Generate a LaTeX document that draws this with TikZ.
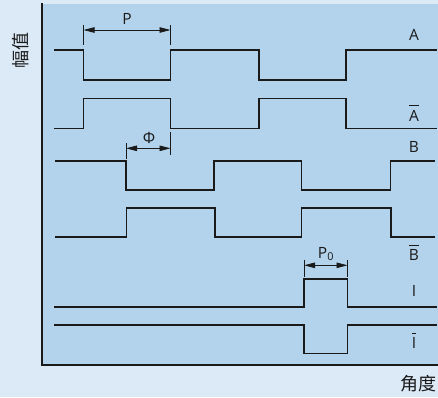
\documentclass[tikz,border=0pt]{standalone}
\usepackage{fontspec}
\setmainfont{Open Sans}
\newfontfamily\cjk{Noto Sans CJK SC}
\usetikzlibrary{arrows.meta}
\definecolor{outerbg}{HTML}{DCE9F6}
\definecolor{panelbg}{HTML}{B3D3EC}
\definecolor{sig}{HTML}{1A1A1A}
\newcommand\barred[1]{\leavevmode\vbox{\hrule height 1.2pt\kern 3.4pt\hbox{#1}}}
\begin{document}
\begin{tikzpicture}[x=1pt,y=-1pt,
  wave/.style={draw=sig, line width=1.8pt, line join=miter},
  axisline/.style={draw=sig, line width=1.8pt},
  dimline/.style={draw=sig, line width=0.8pt, {Triangle[length=11pt,width=5.5pt]}-{Triangle[length=11pt,width=5.5pt]}},
  dimtick/.style={draw=sig, line width=0.8pt},
  lbl/.style={font=\fontsize{15.5}{18}\selectfont, inner sep=0pt, text=sig},
  cjklbl/.style={font=\cjk\fontsize{18}{20}\selectfont, inner sep=0pt, text=sig},
  ]
\fill[outerbg] (0,0) rectangle (438,397);
\useasboundingbox (0,0) rectangle (438,397);
\fill[panelbg] (42,4) rectangle (438,365);
\draw[axisline] (42,3) -- (42,365) -- (438,365);

% waveforms
\draw[wave] (54,50) -- (83.5,50) -- (83.5,80) -- (170.5,80) -- (170.5,50) -- (259,50) -- (259,80) -- (346,80) -- (346,50) -- (437,50);
\draw[wave] (54,128.5) -- (83.5,128.5) -- (83.5,98.5) -- (170.5,98.5) -- (170.5,128.5) -- (259,128.5) -- (259,98.5) -- (346,98.5) -- (346,128.5) -- (437,128.5);
\draw[wave] (55,160.7) -- (126,160.7) -- (126,190) -- (214,190) -- (214,160.7) -- (301.5,160.7) -- (301.5,190) -- (390.5,190) -- (390.5,160.7) -- (435,160.7);
\draw[wave] (55,237.3) -- (126.5,237.3) -- (126.5,208.3) -- (215,208.3) -- (215,237.3) -- (301.5,237.3) -- (301.5,208.3) -- (391,208.3) -- (391,237.3) -- (435,237.3);
\draw[wave] (54,307) -- (304,307) -- (304,279) -- (347.5,279) -- (347.5,307) -- (437,307);
\draw[wave] (54,325) -- (304,325) -- (304,353.5) -- (347.5,353.5) -- (347.5,325) -- (437,325);

% dimension P
\coordinate (pL) at (83.5,30);
\coordinate (pR) at (170.5,30);
\draw[dimtick] (83.5,25) -- (83.5,45);
\draw[dimtick] (170.5,25) -- (170.5,45);
\draw[dimline] (pL) -- (pR);
\node[lbl] (pLab) at (127,19) {P};

% dimension Phi
\coordinate (fL) at (126,148.3);
\coordinate (fR) at (170.5,148.3);
\draw[dimtick] (126,143) -- (126,158.5);
\draw[dimtick] (170.5,131.5) -- (170.5,155);
\draw[dimline] (fL) -- (fR);
\node[lbl] (fLab) at (149,137.5) {Φ};

% dimension P0
\coordinate (qL) at (304,265.3);
\coordinate (qR) at (347.5,265.3);
\draw[dimtick] (304,259.5) -- (304,277);
\draw[dimtick] (347.5,259.5) -- (347.5,277);
\draw[dimline] (qL) -- (qR);
\node[lbl] (qLab) at (326,254) {P\textsubscript{0}};

% signal labels
\node[lbl, anchor=base] (la) at (414,40) {A};
\node[lbl, anchor=base] (lna) at (414,121) {\barred{A}};
\node[lbl, anchor=base] (lb) at (414,152.3) {B};
\node[lbl, anchor=base] (lnb) at (414,260.7) {\barred{B}};
\node[lbl, anchor=base] (li) at (414,296.7) {I};
\node[lbl, anchor=base] (lni) at (414,348.3) {\barred{I}};

% axis labels
\node[cjklbl, rotate=90] (ylab) at (21,50) {幅值};
\node[cjklbl] (xlab) at (418,384) {角度};
\end{tikzpicture}
\end{document}
